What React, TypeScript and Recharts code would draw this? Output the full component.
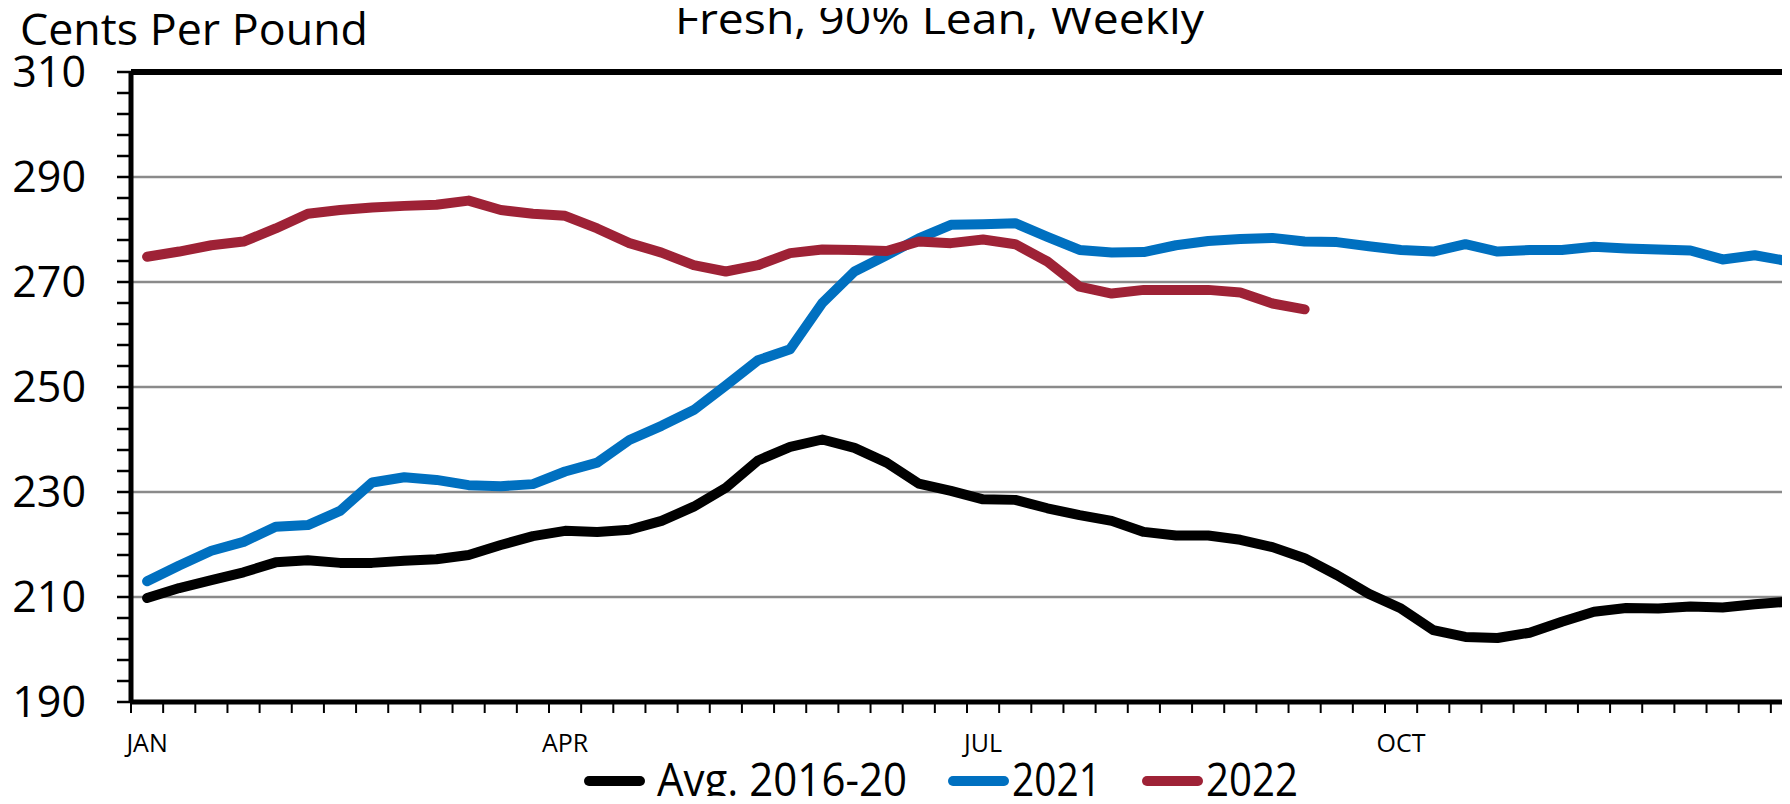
import React from 'react';
import { LineChart, Line, XAxis, YAxis, CartesianGrid, ReferenceLine, Legend } from 'recharts';

const FONT = "'Open Sans', 'Noto Sans', sans-serif";

// 52 weekly categories
const weeks = [
  1, 2, 3, 4, 5, 6, 7, 8, 9, 10, 11, 12, 13, 14, 15, 16, 17, 18, 19, 20, 21, 22, 23, 24, 25, 26,
  27, 28, 29, 30, 31, 32, 33, 34, 35, 36, 37, 38, 39, 40, 41, 42, 43, 44, 45, 46, 47, 48, 49, 50, 51, 52,
];

const avg2016_20 = [
  209.8, 211.7, 213.2, 214.7, 216.6, 217.0, 216.5, 216.5, 216.9, 217.2, 218.0, 219.9, 221.6,
  222.6, 222.4, 222.8, 224.5, 227.2, 230.8, 236.0, 238.6, 240.0, 238.4, 235.6, 231.6, 230.2,
  228.6, 228.5, 226.9, 225.6, 224.5, 222.4, 221.7, 221.7, 220.9, 219.5, 217.4, 214.2, 210.6,
  207.8, 203.7, 202.4, 202.2, 203.2, 205.3, 207.2, 207.9, 207.8, 208.2, 208.0, 208.6, 209.1,
];

const y2021 = [
  213.0, 216.0, 218.8, 220.5, 223.4, 223.7, 226.4, 231.8, 232.8, 232.3, 231.3, 231.1, 231.5,
  233.9, 235.6, 239.9, 242.6, 245.6, 250.3, 255.1, 257.2, 266.0, 272.0, 275.1, 278.3, 280.9,
  281.0, 281.2, 278.6, 276.1, 275.6, 275.7, 277.0, 277.8, 278.2, 278.4, 277.7, 277.6, 276.8,
  276.1, 275.8, 277.2, 275.8, 276.1, 276.1, 276.7, 276.4, 276.2, 276.0, 274.3, 275.1, 274.0,
];

const y2022 = [
  274.8, 275.8, 277.0, 277.7, 280.2, 283.0, 283.7, 284.2, 284.5, 284.7, 285.5, 283.7, 283.0,
  282.6, 280.2, 277.4, 275.6, 273.2, 272.0, 273.2, 275.5, 276.2, 276.1, 275.9, 277.7, 277.4,
  278.1, 277.2, 273.9, 269.1, 267.8, 268.5, 268.5, 268.5, 268.0, 265.9, 264.8,
];

const monthLabels = ['JAN', 'APR', 'JUL', 'OCT'];
const monthWeeks = [1, 14, 27, 40];

const yLabelValues = [190, 210, 230, 250, 270, 290, 310];
const gridValues = [210, 230, 250, 270, 290];
const yMinorTicks = Array.from({ length: 31 }, (_, i) => 190 + i * 4);
const weekBoundaries = [0, ...weeks];

const seriesNames = ['Avg. 2016-20', '2021', '2022'];
const seriesColors = ['#000000', '#0070C0', '#9E2236'];

const titleText = 'Fresh, 90% Lean, Weekly';
const unitText = 'Cents Per Pound';

const data = weeks.map((w, i) => ({
  x: w - 0.5,
  avg: avg2016_20[i],
  s2021: y2021[i],
  s2022: i < y2022.length ? y2022[i] : null,
}));

const labelTicks = monthWeeks.map((w) => w - 0.5);
const allXTicks = [...weekBoundaries, ...labelTicks].sort((a, b) => a - b);

const XTick = (props: any) => {
  const { x, y, payload } = props;
  const v = payload.value;
  const idx = labelTicks.indexOf(v);
  if (idx >= 0) {
    return (
      <text x={x} y={y + 50} textAnchor="middle" fontFamily={FONT} fontSize={25} fill="#000">
        {monthLabels[idx]}
      </text>
    );
  }
  return <line x1={x} y1={y} x2={x} y2={y + 11} stroke="#000" strokeWidth={2} />;
};

// legend styling: gap before text, text width
const legendGaps = [12, 3, 3];
const legendTextWidths = [250, 89, 92];

const renderLegend = () => {
  let cursor = 0;
  const items = seriesNames.map((name, i) => {
    const sx = cursor;
    const tx = sx + 61 + legendGaps[i];
    cursor = tx + legendTextWidths[i] + 41;
    return (
      <g key={name}>
        <line x1={sx + 5} y1={27} x2={sx + 56} y2={27} stroke={seriesColors[i]} strokeWidth={10} strokeLinecap="round" />
        <text
          x={tx}
          y={42}
          fontFamily={FONT}
          fontSize={45}
          fill="#000"
          textLength={legendTextWidths[i]}
          lengthAdjust="spacingAndGlyphs"
        >
          {name}
        </text>
      </g>
    );
  });
  return (
    <svg width={760} height={50} style={{ display: 'block', overflow: 'visible' }}>
      {items}
    </svg>
  );
};

export default function App() {
  return (
    <div
      style={{
        position: 'relative',
        width: 1790,
        height: 804,
        margin: -8,
        overflow: 'hidden',
        background: '#ffffff',
        fontFamily: FONT,
      }}
    >
      <LineChart width={1830} height={804} data={data} margin={{ top: 72, right: 27, bottom: 0, left: 0 }}>
        <CartesianGrid horizontal vertical={false} horizontalValues={gridValues} stroke="#8a8a8a" strokeWidth={2.5} />
        <XAxis
          type="number"
          dataKey="x"
          domain={[0, 52]}
          ticks={allXTicks}
          interval={0}
          tick={<XTick />}
          tickSize={0}
          tickMargin={0}
          height={102}
          axisLine={{ stroke: '#000', strokeWidth: 5 }}
          tickLine={false}
          allowDataOverflow
        />
        <YAxis
          type="number"
          domain={[190, 310]}
          ticks={yMinorTicks}
          interval={0}
          width={131}
          tickSize={14}
          tickMargin={31}
          tickFormatter={(v: number) => (yLabelValues.includes(v) ? String(v) : '')}
          axisLine={{ stroke: '#000', strokeWidth: 5 }}
          tickLine={{ stroke: '#000', strokeWidth: 2.5 }}
          tick={{ fill: '#000', fontSize: 43, fontFamily: FONT }}
          allowDataOverflow
        />
        <ReferenceLine y={310} stroke="#000" strokeWidth={6} />
        <Line
          type="linear"
          dataKey="avg"
          name={seriesNames[0]}
          stroke={seriesColors[0]}
          strokeWidth={10}
          strokeLinecap="round"
          strokeLinejoin="round"
          dot={false}
          activeDot={false}
          isAnimationActive={false}
        />
        <Line
          type="linear"
          dataKey="s2021"
          name={seriesNames[1]}
          stroke={seriesColors[1]}
          strokeWidth={10}
          strokeLinecap="round"
          strokeLinejoin="round"
          dot={false}
          activeDot={false}
          isAnimationActive={false}
        />
        <Line
          type="linear"
          dataKey="s2022"
          name={seriesNames[2]}
          stroke={seriesColors[2]}
          strokeWidth={10}
          strokeLinecap="round"
          strokeLinejoin="round"
          dot={false}
          activeDot={false}
          connectNulls={false}
          isAnimationActive={false}
        />
        <Legend
          layout="horizontal"
          verticalAlign="middle"
          align="center"
          content={renderLegend}
          wrapperStyle={{ position: 'absolute', left: 584, top: 754, width: 760, height: 50 }}
        />
      </LineChart>
      <svg
        width={1790}
        height={804}
        style={{ position: 'absolute', left: 0, top: 0, pointerEvents: 'none' }}
      >
        <text
          x={675}
          y={34}
          fontFamily={FONT}
          fontSize={42}
          fill="#000"
          textLength={529}
          lengthAdjust="spacingAndGlyphs"
        >
          {titleText}
        </text>
        <text
          x={20}
          y={45}
          fontFamily={FONT}
          fontSize={43}
          fill="#000"
          textLength={348}
          lengthAdjust="spacingAndGlyphs"
        >
          {unitText}
        </text>
      </svg>
    </div>
  );
}
